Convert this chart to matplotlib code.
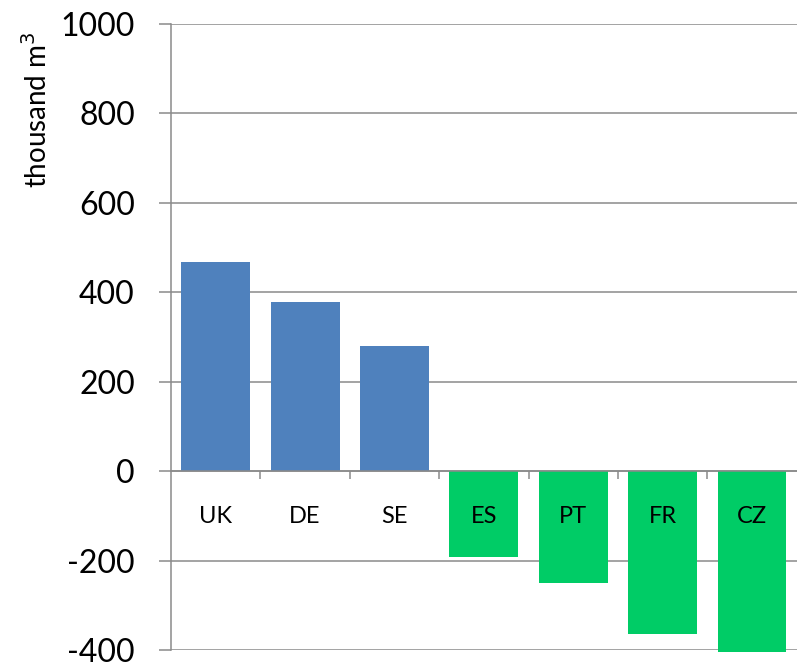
import numpy as np
from matplotlib import pyplot as plt

countries = ['UK', 'DE', 'SE', 'ES', 'PT', 'FR', 'CZ']
values = [467, 378, 280, -192, -250, -364, -405]
colors = ['#4F81BD'] * 3 + ['#00CC66'] * 4
yticks = [-400, -200, 0, 200, 400, 600, 800, 1000]

plt.rcParams['font.family'] = ['Lato', 'DejaVu Sans']

fig = plt.figure(figsize=(7.97, 6.64), dpi=100)
ax = fig.add_axes([0.2146, 0.021, 0.785, 0.9436])

x = np.arange(len(countries))
ax.bar(x, values, width=0.77, color=colors, zorder=3, clip_on=False)

ax.set_xlim(-0.5, len(countries) - 0.5)
ax.set_ylim(-400, 1000)
ax.set_yticks(yticks)
ax.set_yticklabels([str(v) for v in yticks], fontsize=23)
ax.yaxis.grid(True, color='#8a8a8a', linewidth=1.1, zorder=0)
ax.tick_params(axis='y', length=9, width=1.1, color='#8a8a8a', direction='out', pad=17)

# category labels drawn as text so they sit on top of the bars
ax.set_xticks(x[:-1] + 0.5)
ax.set_xticklabels([])
ax.tick_params(axis='x', length=6, width=1.1, color='#8a8a8a', direction='out')
for xi, name in zip(x, countries):
    ax.annotate(name, (xi, 0), xytext=(0, -33), textcoords='offset points',
                ha='center', va='center', fontsize=17, zorder=5)

for s in ['top', 'right']:
    ax.spines[s].set_visible(False)
ax.spines['left'].set_color('#8a8a8a')
ax.spines['left'].set_linewidth(1.1)
ax.spines['bottom'].set_position(('data', 0))
ax.spines['bottom'].set_color('#8a8a8a')
ax.spines['bottom'].set_linewidth(1.1)
ax.spines['bottom'].set_zorder(4)

ax.set_ylabel('thousand m$^3$', fontsize=20)
ax.yaxis.set_label_coords(-0.19, 0.862)

fig.savefig('out.png', dpi=100)
